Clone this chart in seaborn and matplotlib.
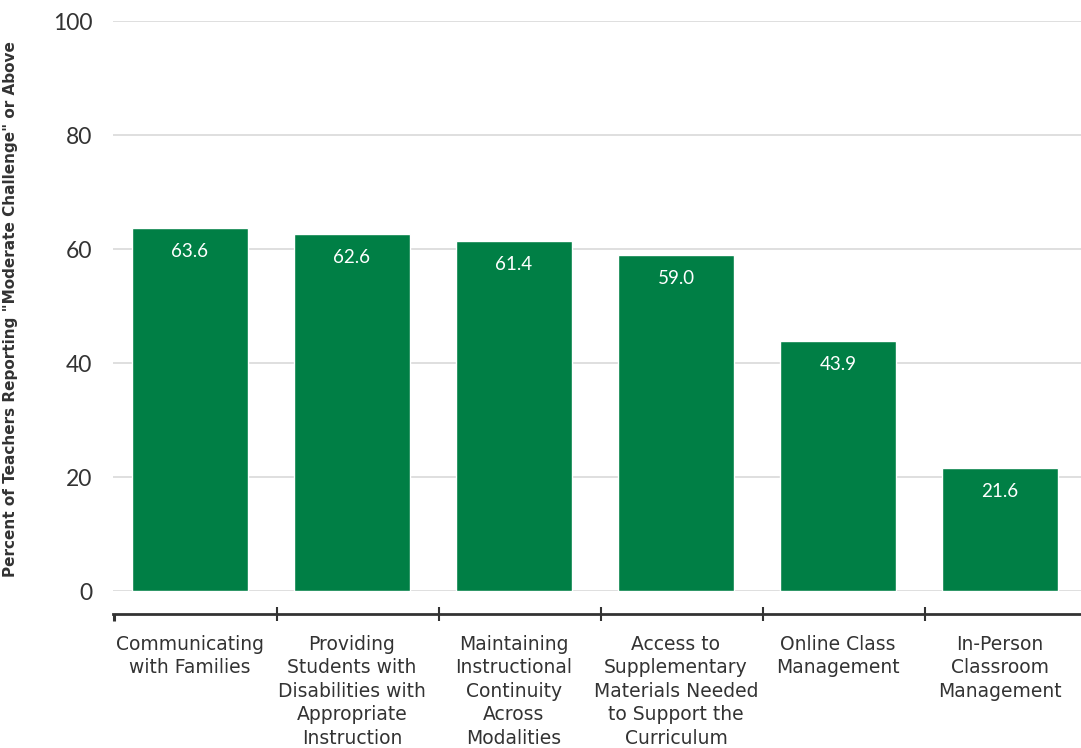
import matplotlib
matplotlib.use("Agg")
import matplotlib.pyplot as plt
import seaborn as sns

categories = [
    "Communicating\nwith Families",
    "Providing\nStudents with\nDisabilities with\nAppropriate\nInstruction",
    "Maintaining\nInstructional\nContinuity\nAcross\nModalities",
    "Access to\nSupplementary\nMaterials Needed\nto Support the\nCurriculum",
    "Online Class\nManagement",
    "In-Person\nClassroom\nManagement",
]
values = [63.6, 62.6, 61.4, 59.0, 43.9, 21.6]
y_ticks = [0, 20, 40, 60, 80, 100]

bar_color = "#007f45"
text_color = "#333333"
label_font = ["Liberation Sans Narrow", "DejaVu Sans"]
num_font = ["Lato", "DejaVu Sans"]

sns.set_theme(style="white")
plt.rcParams["font.family"] = label_font

W, H = 1081, 748
fig = plt.figure(figsize=(W / 100, H / 100), dpi=100)

left_px, right_px = 113, 1081
top_px, base_px = 21, 591
ax = fig.add_axes([left_px / W, (H - base_px) / H, (right_px - left_px) / W, (base_px - top_px) / H])

sns.barplot(x=list(range(len(values))), y=values, color=bar_color, width=0.716,
            saturation=1, ax=ax, zorder=3)

xlim = (-0.475, 5.5)
ax.set_xlim(*xlim)
ax.set_ylim(0, 100)
ax.set_yticks(y_ticks)
ax.set_yticklabels([str(t) for t in y_ticks], fontsize=16.5, color=text_color, family=num_font)
ax.tick_params(axis="y", length=0, pad=15)
ax.set_xticks([])
ax.set_xlabel("")
for s in ax.spines.values():
    s.set_visible(False)
ax.grid(axis="y", color="#dcdcdc", linewidth=1.3, zorder=0)
ax.set_axisbelow(True)

ax.set_ylabel("Percent of Teachers Reporting \"Moderate Challenge\" or Above",
              fontsize=11, fontweight="bold", color=text_color)
ax.yaxis.set_label_coords(-(left_px - 18) / (right_px - left_px), 0.495)

for i, v in enumerate(values):
    ax.text(i, v - 4.1, f"{v:.1f}", ha="center", va="center", color="white",
            fontsize=13.5, family=num_font)

# separate category axis below the plot
axis_px = 614
ax2 = fig.add_axes([left_px / W, (H - axis_px) / H, (right_px - left_px) / W, 0.0001])
ax2.set_xlim(*xlim)
ax2.set_yticks([])
for name, s in ax2.spines.items():
    s.set_visible(name == "bottom")
ax2.spines["bottom"].set_color(text_color)
ax2.spines["bottom"].set_linewidth(2)
ax2.set_xticks(range(len(categories)))
ax2.set_xticklabels(categories, fontsize=13.5, color=text_color, linespacing=1.3, va="top")
ax2.tick_params(axis="x", which="major", length=0, pad=15)
ax2.set_xticks([i + 0.54 for i in range(5)], minor=True)
ax2.tick_params(axis="x", which="minor", bottom=True, direction="inout", length=10,
                width=1.5, color=text_color)
ax2.patch.set_visible(False)
# left end cap of the category axis, pointing down only
ax2.plot([xlim[0] + 0.006], [0], marker=3, markersize=5, markeredgewidth=2.2,
         color=text_color, transform=ax2.get_xaxis_transform(), clip_on=False)

fig.savefig("out.png", dpi=100)
